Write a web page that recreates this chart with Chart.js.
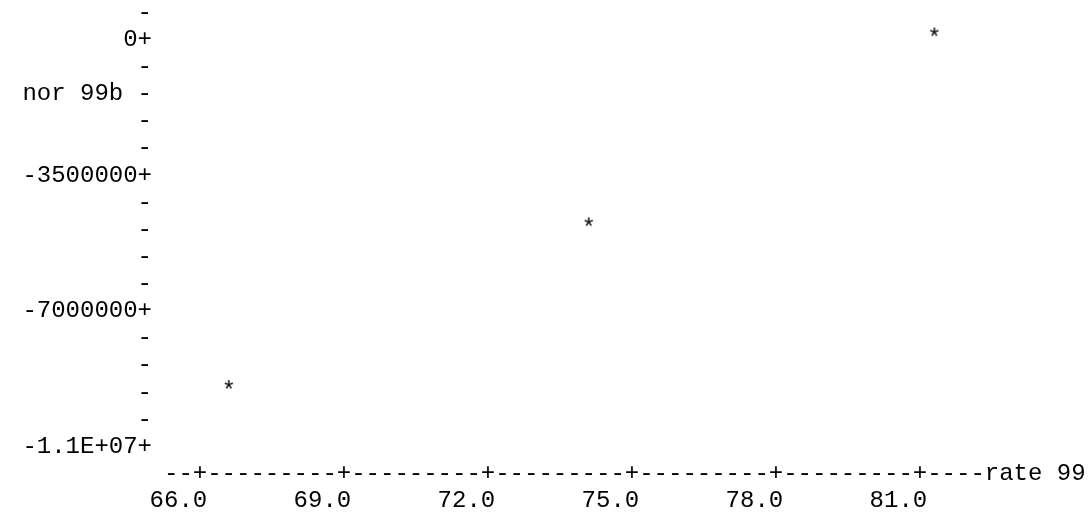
<!DOCTYPE html>
<html>
<head>
  <title>nor 99b by rate 99</title>
  <script src="https://cdn.jsdelivr.net/npm/chart.js"></script>
  <style>
    body { margin: 0; background: #fff; }
  </style>
</head>
<body>
  <canvas id="plot" width="1091" height="516"></canvas>
  <script>
    // points
    var rate99 = [81.3, 74.1, 66.6];
    var nor99b = [0, -4900000, -9100000];

    // major ticks and their labels
    var xTickValues = [66, 69, 72, 75, 78, 81];
    var xTickLabels = ['66.0', '69.0', '72.0', '75.0', '78.0', '81.0'];
    var yTickValues = [0, -3500000, -7000000, -10500000];
    var yTickLabels = ['0', '-3500000', '-7000000', '-1.1E+07'];

    var xTitle = 'rate 99';
    var yTitle = 'nor 99b';

    var xStep = 0.3;      // one character column
    var yStep = 700000;   // one text row
    var yTitleValue = -1400000;

    var rowHeight = 27.2;
    var monoFont = { family: "'Liberation Mono', monospace", size: 24, lineHeight: rowHeight / 24 };
    var xTickPadding = 13.4;

    // the axis line, one character per column: --+---------+ ... +----rate 99
    var axisRow = '--+';
    for (var k = 1; k < xTickValues.length; k++) axisRow += '---------+';
    axisRow += '----' + xTitle;
    var axisStart = xTickValues[0] - 2 * xStep;

    function near(a, b, eps) { return Math.abs(a - b) < eps; }

    // keep the layout to the padding given below
    function noScalePadding(scale) {
      scale.paddingLeft = 0;
      scale.paddingRight = 0;
      scale.paddingTop = 0;
      scale.paddingBottom = 0;
    }

    // the plotting symbol is a text asterisk
    var star = document.createElement('canvas');
    star.width = 16;
    star.height = 28;
    var sc = star.getContext('2d');
    sc.font = '24px ' + monoFont.family;
    sc.textAlign = 'center';
    sc.textBaseline = 'middle';
    sc.fillStyle = '#000';
    sc.fillText('*', 8, 14);

    Chart.defaults.color = '#000';

    new Chart(document.getElementById('plot'), {
      type: 'scatter',
      data: {
        datasets: [{
          data: rate99.map(function (x, i) { return { x: x, y: nor99b[i] }; }),
          pointStyle: star,
          pointRadius: 8
        }]
      },
      options: {
        responsive: false,
        animation: false,
        layout: { autoPadding: false, padding: { left: 22.4, right: 7.8, top: 12.4, bottom: 1.7 } },
        plugins: { legend: { display: false }, tooltip: { enabled: false } },
        scales: {
          x: {
            type: 'linear',
            min: 65,
            max: 84.4,
            grid: { display: false, drawTicks: false },
            border: { display: false },
            afterBuildTicks: function (scale) {
              scale.ticks = axisRow.split('').map(function (c, i) {
                return { value: axisStart + i * xStep };
              });
            },
            afterFit: function (scale) {
              noScalePadding(scale);
              scale.height = xTickPadding + 2 * rowHeight;
            },
            ticks: {
              autoSkip: false,
              maxRotation: 0,
              minRotation: 0,
              padding: xTickPadding,
              font: monoFont,
              callback: function (value, index) {
                var second = '';
                for (var j = 0; j < xTickValues.length; j++) {
                  if (near(value, xTickValues[j], 1e-6)) {
                    // pad so the last digit sits under the '+'
                    second = xTickLabels[j] + ' '.repeat(xTickLabels[j].length - 1);
                  }
                }
                return [axisRow.charAt(index), second];
              }
            }
          },
          y: {
            type: 'linear',
            min: yTickValues[yTickValues.length - 1],
            max: yStep,
            grid: { display: false, drawTicks: false },
            border: { display: false },
            afterBuildTicks: function (scale) {
              var t = [];
              for (var v = yTickValues[yTickValues.length - 1]; v <= yStep; v += yStep) t.push({ value: v });
              scale.ticks = t;
            },
            afterFit: noScalePadding,
            ticks: {
              autoSkip: false,
              padding: 0,
              font: monoFont,
              callback: function (value) {
                for (var j = 0; j < yTickValues.length; j++) {
                  if (near(value, yTickValues[j], 1)) return yTickLabels[j] + '+';
                }
                if (near(value, yTitleValue, 1)) return yTitle + ' -';
                return '-';
              }
            }
          }
        }
      }
    });
  </script>
</body>
</html>
